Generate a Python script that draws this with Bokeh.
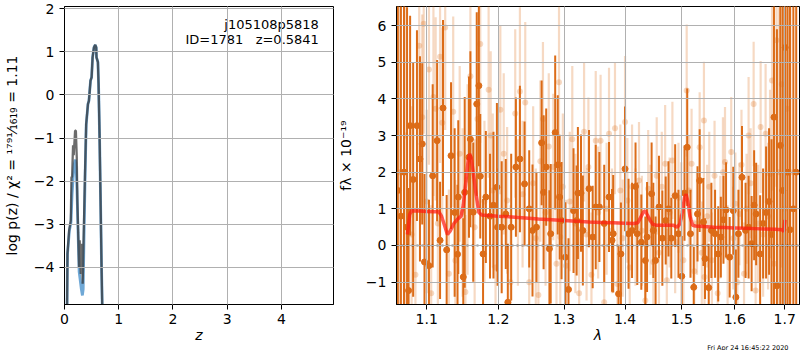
import numpy as np
from bokeh.plotting import figure
from bokeh.layouts import row
from bokeh.models import (FixedTicker, PrintfTickFormatter, Span, Label, Title,
                          ColumnDataSource, Range1d)
from bokeh.embed import file_html
from bokeh.resources import INLINE

# ---------------- left panel: log p(z) ----------------
pz_dark_z = [0.040, 0.055, 0.085, 0.116, 0.128, 0.140, 0.158, 0.170, 0.195, 0.210,
             0.226, 0.237, 0.256, 0.268, 0.280, 0.300, 0.317, 0.335, 0.350, 0.378,
             0.400, 0.433, 0.450, 0.480, 0.500, 0.518, 0.543, 0.567, 0.585, 0.590,
             0.616, 0.628, 0.646, 0.665, 0.683, 0.695, 0.705]
pz_dark = [-6.0, -3.68, -3.14, -2.91, -1.91, -1.90, -1.17, -1.40, -0.83, -0.83,
           -1.44, -2.45, -3.37, -3.99, -3.37, -4.15, -3.45, -4.38, -3.45, -1.83,
           -0.67, -0.21, -0.14, 0.33, 0.41, 0.87, 1.10, 1.16, 1.10, 0.87,
           0.76, 0.26, -0.90, -2.45, -3.99, -4.83, -6.0]

pz_blue_z = [0.040, 0.055, 0.090, 0.120, 0.140, 0.160, 0.180, 0.200, 0.215, 0.230,
             0.250, 0.270, 0.290, 0.310, 0.330, 0.345, 0.360, 0.380, 0.400, 0.433,
             0.450, 0.480, 0.500, 0.518, 0.543, 0.567, 0.585, 0.590, 0.616, 0.628,
             0.646, 0.665, 0.683, 0.695, 0.705]
pz_blue = [-6.0, -3.70, -3.15, -2.95, -2.30, -1.90, -1.60, -1.50, -1.70, -2.20,
           -3.20, -4.10, -4.30, -4.50, -4.65, -4.50, -3.30, -1.90, -0.70, -0.21,
           -0.14, 0.33, 0.41, 0.87, 1.10, 1.16, 1.10, 0.87, 0.76, 0.26,
           -0.90, -2.45, -3.99, -4.83, -6.0]

left_xticks = [0, 1, 2, 3, 4]
left_yticks = [-4, -3, -2, -1, 0, 1, 2]
title_lines = ["j105108p5818", "ID=1781\u00a0\u00a0\u00a0z=0.5841"]

# ---------------- right panel: spectrum ----------------
dark_wave = [1.062, 1.066, 1.070, 1.074, 1.076, 1.078, 1.082, 1.087, 1.091, 1.094,
             1.097, 1.103, 1.108, 1.114, 1.118, 1.122, 1.127, 1.133, 1.138, 1.142,
             1.143, 1.150, 1.152, 1.158, 1.160, 1.164, 1.169, 1.172, 1.174, 1.178,
             1.182, 1.188, 1.193, 1.198, 1.199, 1.205, 1.211, 1.214, 1.219, 1.226,
             1.232, 1.239, 1.246, 1.251, 1.257, 1.265, 1.268, 1.272, 1.277, 1.279,
             1.286, 1.290, 1.293, 1.296, 1.302, 1.307, 1.315, 1.320, 1.322, 1.327,
             1.330, 1.340, 1.346, 1.351, 1.357, 1.365, 1.373, 1.378, 1.380, 1.389,
             1.393, 1.400, 1.406, 1.412, 1.418, 1.421, 1.428, 1.435, 1.438, 1.446,
             1.449, 1.453, 1.459, 1.465, 1.471, 1.476, 1.481, 1.488, 1.494, 1.500,
             1.505, 1.510, 1.516, 1.522, 1.529, 1.533, 1.540, 1.543, 1.550, 1.555,
             1.562, 1.568, 1.573, 1.578, 1.583, 1.590, 1.597, 1.602, 1.607, 1.614,
             1.621, 1.627, 1.633, 1.638, 1.642, 1.650, 1.656, 1.662, 1.668, 1.673,
             1.678, 1.684, 1.691, 1.696, 1.701, 1.706, 1.711, 1.718, 1.724]
dark_flux = [1.5, 0.8, 2.0, 0.5, -1.23, 3.27, 1.8, 3.27, 2.36, 2.77,
             -0.45, -0.55, 1.9, 2.86, 0.14, 3.75, -0.12, 2.45, 0.9, -0.24,
             1.32, -0.86, 1.45, 2.41, 2.9, 0.91, 3.86, 4.36, 1.89, -0.23,
             1.32, 0.8, 1.1, 1.59, 0.5, 0.5, 0.86, -1.55, 0.5, 2.14,
             2.36, 1.68, 1.0, 0.41, 0.5, 2.8, 1.45, 2.14, -0.09, 0.32,
             3.08, 2.2, 1.32, 0.68, -0.32, -1.2, 0.95, 0.68, 1.43, 1.43,
             0.41, 1.55, 0.23, 1.05, 1.05, 0.6, 1.32, 0.14, 0.32, -1.32,
             -0.23, 2.09, 0.32, 0.41, 1.61, 0.32, 0.09, -0.41, 0.23, 1.41,
             0.41, -0.41, 1.05, 0.2, 0.68, 1.0, 0.2, 1.36, 0.32, -0.84,
             1.43, 2.68, 0.32, -1.14, 0.86, 1.77, 0.64, -0.36, -1.15, 0.41,
             0.32, -0.23, 0.23, 0.7, 0.97, -0.32, 0.95, -1.41, 0.32, 1.86,
             0.41, 0.5, 0.05, 1.1, 0.86, -0.23, 0.6, 0.9, 1.2, 0.3,
             3.5, -1.1, 2.73, 1.5, 5.4, 2.0, 0.43, 1.0, 2.0]
dark_err = [12, 12, 10, 6, 2.8, 3.0, 3.2, 2.6, 2.8, 2.2,
            2.4, 1.8, 2.5, 2.2, 1.6, 2.4, 1.5, 2.0, 2.3, 1.9,
            2.1, 1.6, 2.6, 2.2, 2.4, 1.9, 2.5, 2.2, 1.7, 1.5,
            1.8, 1.7, 2.0, 2.3, 1.6, 1.8, 1.5, 1.6, 2.0, 1.9,
            2.0, 1.7, 1.6, 1.8, 1.5, 1.7, 2.1, 1.6, 1.6, 1.9,
            2.1, 1.9, 1.7, 1.6, 1.5, 1.4, 1.7, 1.5, 1.8, 1.6,
            1.5, 1.6, 1.4, 1.7, 1.5, 1.6, 1.5, 1.4, 1.6, 1.3,
            1.4, 1.7, 1.5, 1.3, 1.2, 1.4, 1.3, 1.2, 1.5, 1.4,
            1.3, 1.2, 1.4, 1.3, 1.2, 1.3, 1.1, 1.4, 1.2, 1.1,
            1.3, 1.6, 1.2, 1.1, 1.3, 1.4, 1.2, 1.1, 1.2, 1.3,
            1.2, 1.3, 1.1, 1.2, 1.3, 1.1, 1.2, 1.3, 1.2, 1.4,
            1.3, 1.4, 1.3, 1.5, 1.4, 1.6, 1.5, 1.8, 2.0, 2.6,
            6, 7, 8, 9, 10, 10, 10, 12, 12]

light_wave = [1.064, 1.072, 1.080, 1.085, 1.090, 1.094, 1.096, 1.100, 1.103, 1.106,
              1.109, 1.112, 1.115, 1.118, 1.121, 1.125, 1.130, 1.136, 1.139, 1.145,
              1.149, 1.153, 1.156, 1.160, 1.166, 1.170, 1.174, 1.180, 1.186, 1.189,
              1.192, 1.196, 1.203, 1.208, 1.213, 1.218, 1.225, 1.229, 1.232, 1.236,
              1.240, 1.246, 1.252, 1.256, 1.260, 1.263, 1.267, 1.271, 1.276, 1.283,
              1.288, 1.292, 1.294, 1.298, 1.303, 1.309, 1.313, 1.318, 1.324, 1.332,
              1.336, 1.339, 1.344, 1.351, 1.355, 1.359, 1.365, 1.369, 1.373, 1.378,
              1.383, 1.387, 1.392, 1.396, 1.400, 1.404, 1.408, 1.412, 1.418, 1.424,
              1.429, 1.435, 1.440, 1.444, 1.449, 1.455, 1.459, 1.464, 1.470, 1.473,
              1.478, 1.483, 1.488, 1.494, 1.499, 1.503, 1.509, 1.513, 1.518, 1.523,
              1.528, 1.533, 1.537, 1.541, 1.542, 1.547, 1.551, 1.556, 1.561, 1.567,
              1.572, 1.577, 1.581, 1.586, 1.593, 1.597, 1.601, 1.605, 1.609, 1.613,
              1.618, 1.623, 1.627, 1.631, 1.637, 1.641, 1.646, 1.651, 1.656, 1.661,
              1.666, 1.670, 1.674, 1.678, 1.683, 1.688, 1.694, 1.700, 1.705, 1.712]
light_flux = [2.0, 3.0, 0.3, -0.8, 5.45, 3.5, 6.05, 1.2, 4.8, -1.3,
              4.05, 3.73, 0.6, 5.15, 3.35, 5.95, -0.77, 3.65, -0.41, 2.5,
              0.9, -1.27, 1.8, 4.62, 0.5, 3.45, 5.5, 1.2, 4.25, 3.0,
              1.5, -0.6, 3.7, 2.5, 1.23, -1.0, 3.6, 0.9, 4.2, 1.4,
              3.9, -1.0, 1.7, 0.2, -1.35, 2.3, 3.45, 0.9, 2.7, 2.14,
              -0.5, 4.45, 0.23, 1.6, -0.55, 1.2, 2.9, 0.6, -1.3, 3.1,
              0.3, 2.14, -0.8, 2.86, 0.9, 2.86, -1.55, 1.0, 3.05, 0.4,
              3.2, -1.05, 1.5, 0.2, 3.37, 1.23, -0.6, 1.6, 0.5, 1.77,
              0.4, -1.5, 1.55, 0.7, -0.45, 1.9, -0.2, 1.6, 2.23, -0.95,
              0.9, 2.32, 0.1, 1.3, 0.77, -0.4, 4.23, 1.5, 2.23, -0.7,
              0.6, 2.68, -0.2, 3.41, -0.86, 0.8, 1.6, -0.4, 1.9, -1.3,
              0.5, 2.0, 2.28, -0.3, 2.55, 0.2, 1.14, -1.0, 0.86, 2.2,
              -0.77, 1.0, 3.0, 1.7, 3.86, -1.23, 0.6, 3.23, 0.3, 3.05,
              0.8, 1.95, 4.5, -0.5, 5.6, 2.0, 4.4, 1.0, 3.73, 2.0]
light_err = [8, 6, 3.5, 2.8, 3.0, 2.8, 3.0, 2.5, 2.6, 2.4,
             2.7, 2.5, 2.4, 2.9, 2.6, 2.8, 2.3, 2.6, 2.2, 2.4,
             2.3, 2.1, 2.6, 2.8, 2.4, 2.5, 2.7, 2.2, 2.4, 2.3,
             2.1, 2.2, 2.3, 2.2, 2.0, 2.1, 2.3, 2.0, 2.3, 2.0,
             2.2, 2.0, 2.1, 1.9, 1.9, 2.2, 2.1, 2.0, 2.0, 2.0,
             1.9, 2.2, 1.9, 2.0, 1.8, 1.9, 2.0, 1.9, 1.8, 1.9,
             1.8, 1.9, 1.7, 1.9, 1.8, 1.8, 1.7, 1.8, 1.8, 1.7,
             1.8, 1.7, 1.8, 1.6, 1.8, 1.7, 1.6, 1.7, 1.6, 1.6,
             1.5, 1.5, 1.6, 1.5, 1.5, 1.6, 1.5, 1.5, 1.6, 1.4,
             1.5, 1.6, 1.4, 1.5, 1.5, 1.4, 1.8, 1.5, 1.5, 1.4,
             1.4, 1.5, 1.4, 1.6, 1.4, 1.4, 1.5, 1.3, 1.5, 1.3,
             1.4, 1.5, 1.5, 1.4, 1.5, 1.4, 1.4, 1.3, 1.4, 1.5,
             1.4, 1.5, 1.6, 1.5, 1.7, 1.5, 1.6, 1.8, 1.7, 1.9,
             2.0, 2.3, 3.0, 3.5, 4.0, 4.5, 5.0, 6.0, 7.0, 9.0]

model_wave = [1.0745, 1.0775, 1.080, 1.090, 1.100, 1.110, 1.116, 1.120, 1.124, 1.128,
              1.132, 1.137, 1.142, 1.147, 1.150, 1.154, 1.157, 1.159, 1.161, 1.164,
              1.168, 1.172, 1.176, 1.185, 1.20, 1.22, 1.24, 1.26, 1.28, 1.30,
              1.32, 1.34, 1.36, 1.38, 1.40, 1.415, 1.422, 1.428, 1.432, 1.435,
              1.438, 1.443, 1.448, 1.455, 1.47, 1.485, 1.492, 1.497, 1.501, 1.505,
              1.508, 1.511, 1.515, 1.52, 1.525, 1.54, 1.56, 1.58, 1.60, 1.62,
              1.64, 1.66, 1.68, 1.695, 1.698, 1.7005]
model_flux = [0.3, 0.85, 0.95, 0.94, 0.93, 0.92, 0.93, 0.8, 0.55, 0.3,
              0.4, 0.6, 0.72, 0.8, 1.1, 1.8, 2.35, 2.5, 2.4, 2.0,
              1.4, 0.9, 0.83, 0.82, 0.8, 0.78, 0.75, 0.72, 0.7, 0.68,
              0.66, 0.64, 0.63, 0.62, 0.61, 0.6, 0.62, 0.8, 0.92, 0.95,
              0.85, 0.7, 0.58, 0.55, 0.55, 0.55, 0.5, 0.6, 0.9, 1.3,
              1.4, 1.2, 0.8, 0.55, 0.53, 0.52, 0.5, 0.49, 0.48, 0.47,
              0.46, 0.45, 0.44, 0.43, 0.38, 0.7]

right_xticks = [1.1, 1.2, 1.3, 1.4, 1.5, 1.6, 1.7]
right_yticks = [-1, 0, 1, 2, 3, 4, 5, 6]
timestamp = "Fri Apr 24 16:45:22 2020"

FONT = "DejaVu Sans"
TICK_SIZE = "14px"
DARK = "#dc6c18"
GRID = "#b0b0b0"


def style(p):
    p.outline_line_color = "black"
    p.outline_line_alpha = 1.0
    p.outline_line_width = 1
    for ax in p.axis:
        ax.axis_line_color = "black"
        ax.major_tick_line_color = "black"
        ax.major_tick_out = 5
        ax.major_tick_in = 0
        ax.minor_tick_line_color = None
        ax.major_label_text_font = FONT
        ax.major_label_text_font_size = TICK_SIZE
        ax.major_label_text_color = "black"
        ax.major_label_standoff = 4
        ax.axis_label_text_font = FONT
        ax.axis_label_text_font_size = TICK_SIZE
        ax.axis_label_text_color = "black"
    p.grid.grid_line_color = GRID
    p.grid.grid_line_width = 1
    p.grid.level = "overlay"


def minus(v):
    return ("\u2212" + str(abs(v))) if v < 0 else str(v)


# ---- left figure ----
left = figure(width=334, height=350, x_range=Range1d(0, 4.96),
              y_range=Range1d(-4.86, 2.05), output_backend="svg",
              toolbar_location=None, min_border_left=62, min_border_right=1,
              min_border_top=6, min_border_bottom=46)
left.line(pz_blue_z, pz_blue, line_color="#6fa8d6", line_width=2.8)
left.line(pz_dark_z, pz_dark, line_color="#333333", line_alpha=0.72, line_width=2.3)
style(left)
left.xaxis.ticker = FixedTicker(ticks=left_xticks)
left.yaxis.ticker = FixedTicker(ticks=left_yticks)
left.yaxis.major_label_overrides = {v: minus(v) for v in left_yticks}
left.yaxis.major_label_standoff = 5
left.xaxis.axis_label = "z"
left.xaxis.axis_label_text_font_style = "italic"
left.xaxis.axis_label_standoff = 0
left.yaxis.axis_label = "log p(z) / \u03c7\u00b2 = \u00b9\u2077\u2079\u00b9\u2044\u2081\u2086\u2081\u2089 = 1.11"
left.yaxis.axis_label_text_font_style = "normal"
left.yaxis.axis_label_standoff = 11
for i, t in enumerate(title_lines):
    left.add_layout(Label(x=4.69, y=1.63 - 0.35 * i, text=t, text_align="right",
                          text_baseline="middle", text_font=FONT,
                          text_font_size="13px", text_color="black"))

# ---- right figure ----
right = figure(width=466, height=350, x_axis_type="log",
               x_range=Range1d(1.0603, 1.7309), y_range=Range1d(-1.61, 6.52),
               output_backend="svg", toolbar_location=None,
               min_border_left=58, min_border_right=1, min_border_top=6,
               min_border_bottom=46)

dw = np.array(dark_wave); df = np.array(dark_flux); de = np.array(dark_err)
lw = np.array(light_wave); lf = np.array(light_flux); le = np.array(light_err)
dsrc = ColumnDataSource(dict(x=dw, y=df, lo=df - de, hi=df + de))
lsrc = ColumnDataSource(dict(x=lw, y=lf, lo=lf - le, hi=lf + le))

right.segment(x0="x", y0="lo", x1="x", y1="hi", source=dsrc,
              line_color=DARK, line_width=2.0)
right.scatter(x="x", y="y", source=dsrc, size=6, fill_color=DARK,
              line_color=DARK)
right.segment(x0="x", y0="lo", x1="x", y1="hi", source=lsrc,
              line_color=DARK, line_alpha=0.26, line_width=2.2)
right.scatter(x="x", y="y", source=lsrc, size=6, fill_color=DARK,
              fill_alpha=0.26, line_color=None)
right.line(model_wave, model_flux, line_color="#ff1a10", line_alpha=0.72,
           line_width=3.5)
right.add_layout(Span(location=0, dimension="width", line_color="black",
                      line_width=1.6, line_dash="2 3"))
style(right)
right.xaxis.ticker = FixedTicker(ticks=right_xticks, minor_ticks=[])
right.xaxis.formatter = PrintfTickFormatter(format="%.1f")
right.yaxis.ticker = FixedTicker(ticks=right_yticks)
right.yaxis.major_label_overrides = {v: minus(v) for v in right_yticks}
right.yaxis.major_label_standoff = 5
right.xaxis.axis_label = "\u03bb"
right.xaxis.axis_label_text_font_style = "italic"
right.xaxis.axis_label_standoff = 0
right.yaxis.axis_label = "f\u03bb \u00d7 10\u207b\u00b9\u2079"
right.yaxis.axis_label_text_font_style = "normal"
right.yaxis.axis_label_standoff = 9
right.add_layout(Title(text=timestamp, align="right", offset=11, standoff=-12,
                       text_font=FONT, text_font_size="6.5px",
                       text_font_style="normal", text_color="black"), "below")

layout = row(left, right)
open("out.html", "w").write(file_html(layout, INLINE))
